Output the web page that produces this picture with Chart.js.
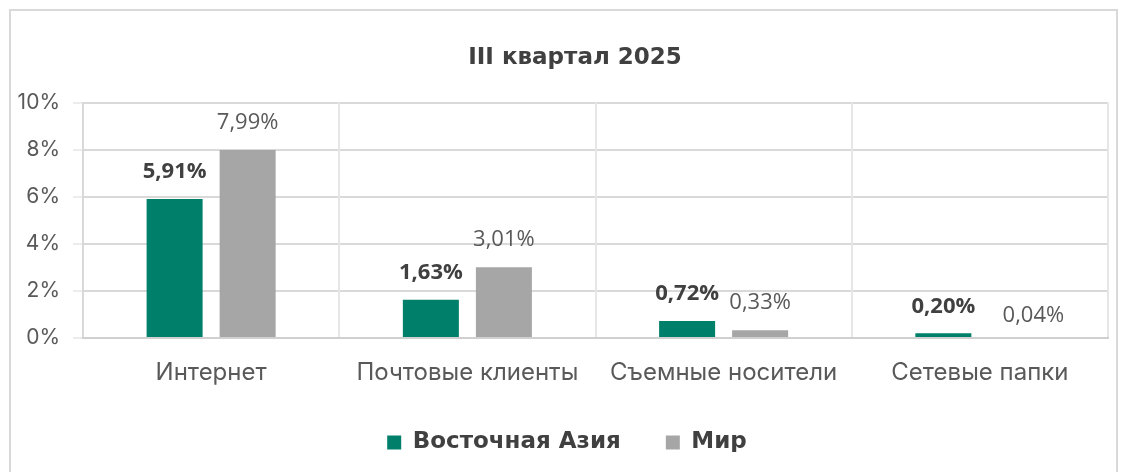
<!DOCTYPE html>
<html><head><meta charset="utf-8">
<script src="https://cdn.jsdelivr.net/npm/chart.js@4/dist/chart.umd.min.js"></script>
<style>
html,body{margin:0;padding:0;background:#fff;}
#frame{position:absolute;left:9px;top:9px;width:1109px;height:480px;border:2px solid #d9d9d9;box-sizing:border-box;}
#wrap{position:absolute;left:0;top:0;width:1122px;height:472px;}
</style></head>
<body>
<div id="frame"></div>
<div id="wrap"><canvas id="c" width="1122" height="472"></canvas></div>
<script>
const categories = ["Интернет", "Почтовые клиенты", "Съемные носители", "Сетевые папки"];
const eastAsia = [5.91, 1.63, 0.72, 0.20];
const world = [7.99, 3.01, 0.33, 0.04];
const seriesNames = ["Восточная Азия", "Мир"];
const yTicks = [0, 2, 4, 6, 8, 10];
const titleText = "III квартал 2025";

const fmt = v => v.toFixed(2).replace('.', ',') + '%';

// small manual nudges of individual data labels (dataset index -> point index -> [dx, dy])
const labelNudge = { 1: { 3: [17, 6] } };

const labelPlugin = {
  id: 'barLabels',
  afterDatasetsDraw(chart) {
    const ctx = chart.ctx;
    chart.data.datasets.forEach((ds, i) => {
      const meta = chart.getDatasetMeta(i);
      ctx.save();
      ctx.font = (i === 0 ? 'bold ' : '') + '22px "Open Sans"';
      ctx.fillStyle = i === 0 ? '#404040' : '#595959';
      ctx.textAlign = 'center';
      ctx.textBaseline = 'middle';
      meta.data.forEach((bar, j) => {
        const n = (labelNudge[i] && labelNudge[i][j]) || [0, 0];
        ctx.fillText(fmt(ds.data[j]), bar.x + n[0], bar.y - 27 + n[1]);
      });
      ctx.restore();
    });
  }
};

// keep wide spacing between legend items without a tall legend box,
// and shift title / legend slightly right as in the reference
const layoutTweak = {
  id: 'layoutTweak',
  afterInit(chart) {
    const lg = chart.legend;
    if (!lg) return;
    const orig = lg.fit;
    lg.fit = function () { orig.call(this); this.height = 66; };
  },
  afterLayout(chart) {
    const t = chart.titleBlock;
    if (t) { t.left += 21; t.right += 21; }
    const l = chart.legend;
    if (l) { l.left += 13; l.right += 13; }
  }
};

new Chart(document.getElementById('c'), {
  type: 'bar',
  data: {
    labels: categories,
    datasets: [
      { label: seriesNames[0], data: eastAsia, backgroundColor: '#00806a', borderWidth: 0,
        categoryPercentage: 0.57, barPercentage: 0.767 },
      { label: seriesNames[1], data: world, backgroundColor: '#a6a6a6', borderWidth: 0,
        categoryPercentage: 0.57, barPercentage: 0.767 }
    ]
  },
  options: {
    responsive: false,
    animation: false,
    layout: { padding: { left: 0, right: 14, top: 0, bottom: 20 } },
    plugins: {
      title: { display: true, text: titleText, color: '#404040',
        font: { family: '"DejaVu Sans"', size: 23, weight: 'bold', lineHeight: 1.2 },
        padding: { top: 44, bottom: 31 } },
      legend: { position: 'bottom',
        labels: { color: '#404040', font: { family: '"DejaVu Sans"', size: 23, weight: 'bold' },
          boxWidth: 14, boxHeight: 14, padding: 45 } },
      tooltip: { enabled: false }
    },
    scales: {
      y: {
        min: 0, max: 10,
        afterBuildTicks: s => { s.ticks = yTicks.map(v => ({ value: v })); },
        afterFit: s => { s.width = 83; },
        ticks: { color: '#595959', font: { family: 'Inter', size: 21 }, padding: 13,
          callback: v => v + '%' },
        grid: { color: '#d9d9d9', lineWidth: 2, tickLength: 10, tickColor: '#ececec' },
        border: { color: '#d9d9d9', width: 2 }
      },
      x: {
        afterFit: s => { s.height = 48; },
        ticks: { color: '#595959', font: { family: 'Inter', size: 24 }, padding: 20 },
        grid: { color: '#e6e6e6', lineWidth: 2, drawTicks: false, offset: true },
        border: { color: '#d0d0d0', width: 2 }
      }
    }
  },
  plugins: [labelPlugin, layoutTweak]
});
</script>
</body></html>
